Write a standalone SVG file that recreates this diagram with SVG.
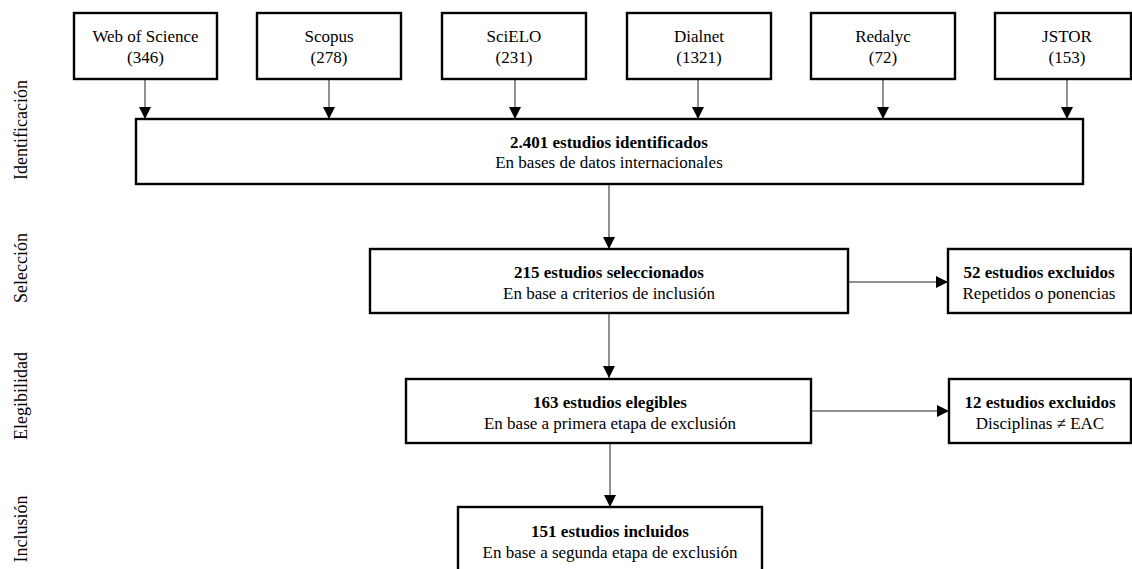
<svg xmlns="http://www.w3.org/2000/svg" width="1132" height="569" viewBox="0 0 1132 569">
<style>
.box{fill:#fff;stroke:#000;stroke-width:2.4}
.t{font-family:"Liberation Serif","Times New Roman",serif;font-size:17px;fill:#000;text-anchor:middle}
.b{font-weight:bold}
.side{font-family:"Liberation Serif","Times New Roman",serif;font-size:18px;fill:#000;text-anchor:middle}
.c{fill:none;stroke:#222;stroke-width:1}
</style>
<defs>
<marker id="ah" markerUnits="userSpaceOnUse" markerWidth="12" markerHeight="12" refX="12" refY="6" orient="auto">
<path d="M0,0 L12,6 L0,12 z" fill="#000"/>
</marker>
</defs>
<rect width="1132" height="569" fill="#fff"/>
<g id="side-labels">
<text class="side" transform="translate(27,130) rotate(-90)">Identificación</text>
<text class="side" transform="translate(27,268) rotate(-90)">Selección</text>
<text class="side" transform="translate(27,396) rotate(-90)">Elegibilidad</text>
<text class="side" transform="translate(27,529) rotate(-90)">Inclusión</text>
</g>
<g id="connectors">
<line class="c" x1="145" y1="79" x2="145" y2="119" marker-end="url(#ah)"/>
<line class="c" x1="329" y1="79" x2="329" y2="119" marker-end="url(#ah)"/>
<line class="c" x1="515" y1="79" x2="515" y2="119" marker-end="url(#ah)"/>
<line class="c" x1="698" y1="79" x2="698" y2="119" marker-end="url(#ah)"/>
<line class="c" x1="883" y1="79" x2="883" y2="119" marker-end="url(#ah)"/>
<line class="c" x1="1067" y1="79" x2="1067" y2="119" marker-end="url(#ah)"/>
<line class="c" x1="609" y1="184" x2="609" y2="249" marker-end="url(#ah)"/>
<line class="c" x1="609" y1="313" x2="609" y2="378" marker-end="url(#ah)"/>
<line class="c" x1="848" y1="282" x2="948" y2="282" marker-end="url(#ah)"/>
<line class="c" x1="811" y1="411" x2="949" y2="411" marker-end="url(#ah)"/>
<line class="c" x1="610" y1="443" x2="610" y2="507" marker-end="url(#ah)"/>
</g>
<g id="wos"><rect class="box" x="74" y="13" width="143" height="66"/>
<text class="t" x="145.5" y="42">Web of Science</text><text class="t" x="145.5" y="63">(346)</text></g>
<g id="scopus"><rect class="box" x="257" y="13" width="144" height="66"/>
<text class="t" x="329" y="42">Scopus</text><text class="t" x="329" y="63">(278)</text></g>
<g id="scielo"><rect class="box" x="442" y="13" width="144" height="66"/>
<text class="t" x="514" y="42">SciELO</text><text class="t" x="514" y="63">(231)</text></g>
<g id="dialnet"><rect class="box" x="627" y="13" width="144" height="66"/>
<text class="t" x="699" y="42">Dialnet</text><text class="t" x="699" y="63">(1321)</text></g>
<g id="redalyc"><rect class="box" x="811" y="13" width="144" height="66"/>
<text class="t" x="883" y="42">Redalyc</text><text class="t" x="883" y="63">(72)</text></g>
<g id="jstor"><rect class="box" x="995" y="13" width="136" height="66"/>
<text class="t" x="1067" y="42">JSTOR</text><text class="t" x="1067" y="63">(153)</text></g>
<g id="identificados"><rect class="box" x="136" y="119" width="947" height="65"/>
<text class="t b" x="609" y="148">2.401 estudios identificados</text><text class="t" x="609" y="168">En bases de datos internacionales</text></g>
<g id="seleccionados"><rect class="box" x="370" y="249" width="478" height="64"/>
<text class="t b" x="609" y="278">215 estudios seleccionados</text><text class="t" x="609" y="299">En base a criterios de inclusión</text></g>
<g id="excluidos52"><rect class="box" x="948" y="249" width="183" height="64"/>
<text class="t b" x="1039" y="278">52 estudios excluidos</text><text class="t" x="1039" y="299">Repetidos o ponencias</text></g>
<g id="elegibles"><rect class="box" x="406" y="379" width="405" height="64"/>
<text class="t b" x="610" y="408">163 estudios elegibles</text><text class="t" x="610" y="429">En base a primera etapa de exclusión</text></g>
<g id="excluidos12"><rect class="box" x="949" y="379" width="182" height="64"/>
<text class="t b" x="1040" y="408">12 estudios excluidos</text><text class="t" x="1040" y="429">Disciplinas ≠ EAC</text></g>
<g id="incluidos"><rect class="box" x="458" y="507" width="304" height="70"/>
<text class="t b" x="610" y="537">151 estudios incluidos</text><text class="t" x="610" y="558">En base a segunda etapa de exclusión</text></g>
</svg>
